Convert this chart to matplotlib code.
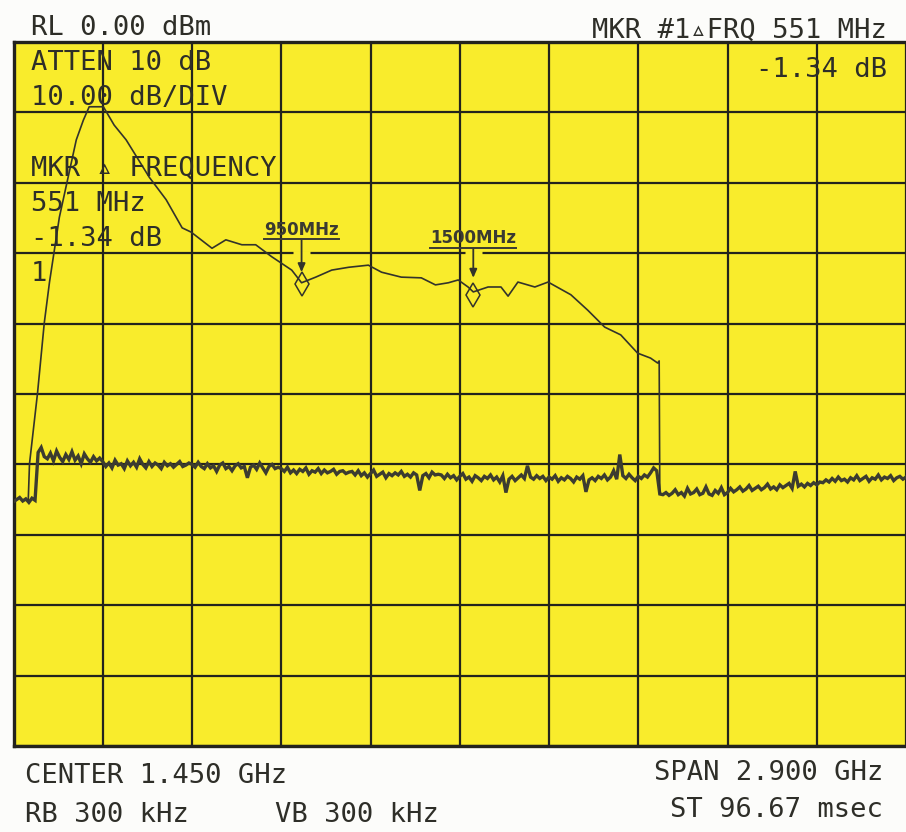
import numpy as np
import matplotlib
matplotlib.use("Agg")
import matplotlib.pyplot as plt

# ---------------- data ----------------
span_mhz = 2900
ref_level_dbm = 0.0
db_per_div = 10.0

# swept filter response (thin trace)
upper_freq = [48, 52, 78, 100, 117, 149, 204, 227, 246, 292,
              327, 366, 441, 496, 548, 577, 645, 690, 742, 787,
              839, 904, 936, 982, 1034, 1089, 1153, 1196, 1260, 1325,
              1371, 1413, 1445, 1477, 1494, 1542, 1584, 1607, 1639, 1694,
              1737, 1811, 1866, 1921, 1973, 2028, 2070, 2093, 2098, 2100]
upper_dbm = [-65.0, -59.9, -49.9, -39.9, -34.1, -24.9, -13.9, -11.1, -9.2, -9.2,
             -11.8, -13.9, -19.2, -22.4, -26.4, -27.0, -29.3, -28.1, -28.8, -28.8,
             -30.5, -32.4, -34.2, -33.4, -32.4, -32.0, -31.7, -32.7, -33.4, -33.5,
             -34.5, -34.2, -33.8, -34.8, -35.5, -34.8, -34.8, -36.1, -34.1, -34.8,
             -34.1, -35.9, -38.1, -40.5, -41.6, -44.2, -44.9, -45.6, -45.3, -64.1]

# noise-floor trace, one reading every 10 MHz from 0 to 2900 MHz
noise_step_mhz = 10
noise_dbm = [
    # 0-70
    -65.3, -65.0, -64.7, -65.2, -64.9, -65.4, -64.8, -65.1,
    # 80-280
    -58.3, -57.6, -58.9, -59.2, -58.4, -59.5, -58.1, -59.0, -59.6, -58.6,
    -59.3, -58.2, -59.4, -58.8, -59.9, -58.5, -59.2, -59.7, -58.9, -59.5, -59.1,
    # 290-570
    -59.6, -60.3, -59.8, -60.5, -59.4, -60.1, -59.9, -60.6, -59.5, -60.2,
    -59.7, -60.4, -59.2, -60.0, -60.5, -59.6, -60.3, -59.8, -60.1, -60.6,
    -59.7, -60.2, -59.9, -60.4, -60.0, -59.6, -60.3, -60.1, -59.8,
    # 580-860
    -60.0, -60.4, -59.7, -60.3, -60.6, -59.9, -60.5, -60.2, -61.0, -60.1,
    -59.8, -60.6, -60.3, -60.9, -60.2, -59.9, -60.5, -60.3, -61.9, -60.4,
    -60.1, -60.7, -59.8, -60.5, -61.2, -60.3, -60.0, -60.6, -60.4,
    # 870-1090
    -60.6, -61.0, -60.4, -61.2, -60.8, -61.3, -60.7, -61.0, -60.5, -61.4,
    -60.9, -61.1, -60.6, -61.3, -60.8, -61.2, -61.0, -60.7, -61.4, -61.0,
    -60.9, -61.3, -61.1,
    # 1100-1380
    -61.0, -61.5, -60.9, -61.6, -61.2, -61.8, -61.3, -60.8, -61.7, -61.4,
    -61.1, -61.9, -61.3, -61.6, -61.2, -61.5, -61.0, -61.7, -61.4, -61.8,
    -61.2, -61.5, -63.7, -61.6, -61.3, -61.9, -61.1, -61.5, -61.4,
    # 1390-1700
    -61.5, -62.0, -61.4, -61.9, -61.6, -62.2, -61.7, -61.3, -62.1, -61.8,
    -62.4, -61.6, -61.9, -62.3, -61.7, -62.0, -61.5, -62.2, -61.8, -62.5,
    -61.6, -64.0, -62.1, -61.7, -62.3, -61.9, -61.5, -62.0, -60.2, -61.8,
    -62.1, -61.6,
    # 1710-2090
    -62.0, -61.7, -62.3, -61.8, -62.1, -61.6, -62.4, -61.9, -62.2, -61.7,
    -62.0, -62.5, -61.8, -62.1, -61.6, -63.9, -62.2, -61.9, -62.3, -61.7,
    -62.0, -61.5, -62.2, -61.8, -60.9, -62.1, -58.6, -61.6, -62.0, -61.4,
    -61.9, -62.3, -61.7, -62.0, -61.5, -61.8, -61.2, -60.5, -60.9,
    # 2100-2320
    -64.2, -64.3, -64.0, -64.4, -64.1, -63.6, -64.3, -64.0, -64.5, -63.4,
    -64.2, -64.0, -63.5, -64.3, -64.1, -63.2, -64.2, -64.4, -63.7, -64.1,
    -63.3, -64.3, -64.0,
    # 2330-2620
    -63.4, -63.9, -63.6, -63.2, -63.8, -63.5, -63.0, -63.7, -63.4, -63.1,
    -63.6, -63.3, -62.8, -63.5, -63.2, -63.6, -62.9, -63.3, -63.0, -62.7,
    -63.4, -61.0, -63.1, -62.8, -63.2, -62.7, -63.0, -62.6, -62.9, -62.5,
    # 2630-2900
    -62.6, -62.2, -62.5, -62.0, -62.4, -61.8, -62.3, -62.1, -62.5, -61.9,
    -62.2, -61.6, -62.3, -62.0, -61.7, -62.4, -61.9, -62.1, -61.5, -62.2,
    -61.8, -62.0, -61.6, -62.3, -61.9, -61.7, -62.1, -61.8,
]

# frequency markers
marker_labels = ["950MHz", "1500MHz"]
marker_freq = [936, 1494]
marker_dbm = [-34.4, -35.9]
arrow_tail_dbm = [-28.1, -29.3]
arrow_tip_dbm = [-32.7, -33.5]
label_dbm = [-27.4, -28.6]

left_info = ["RL 0.00 dBm", "ATTEN 10 dB", "10.00 dB/DIV",
             "MKR \u25b5 FREQUENCY", "551 MHz", "-1.34 dB", "1"]
right_info = ["MKR #1\u25b5FRQ 551 MHz", "-1.34 dB"]
bottom_left = ["CENTER 1.450 GHz", "RB 300 kHz"]
bottom_mid = ["VB 300 kHz"]
bottom_right = ["SPAN 2.900 GHz", "ST 96.67 msec"]

# ---------------- style ----------------
W, H, DPI = 906, 832, 100
YELLOW = "#f9ec2c"
INK = "#2e2e28"
MONO = ["DejaVu Sans Mono", "DejaVu Sans"]
FS = 19.5

fig = plt.figure(figsize=(W / DPI, H / DPI), dpi=DPI, facecolor="#fcfcfa")


def fx(px):
    return px / W


def fy(py):
    return 1 - py / H


div_px = 89.5
ax_left, ax_top, ax_bottom = 13.5, 42, 746
ax = fig.add_axes([fx(ax_left), fy(ax_bottom), (W - ax_left) / W, (ax_bottom - ax_top) / H])
ax.set_facecolor(YELLOW)
ax.set_xlim(0, span_mhz * (W - ax_left) / (10 * div_px))
ax.set_ylim(ref_level_dbm - 10 * db_per_div, ref_level_dbm)
ax.set_xticks(np.linspace(0, span_mhz, 11))
ax.set_yticks(np.linspace(ref_level_dbm - 10 * db_per_div, ref_level_dbm, 11))
ax.tick_params(length=0, labelbottom=False, labelleft=False)
ax.grid(True, color="#23231d", lw=1.6)
ax.set_axisbelow(True)
for s in ["left", "top", "bottom"]:
    ax.spines[s].set_linewidth(2.4)
    ax.spines[s].set_color("#23231d")
ax.spines["right"].set_visible(False)

# gaps in the -30 dB grid line around the marker arrows
for fc in marker_freq:
    ax.plot([fc - 27, fc + 27], [-30, -30], color=YELLOW, lw=3.5, zorder=1.5,
            solid_capstyle="butt")

noise_freq = np.arange(len(noise_dbm)) * noise_step_mhz
ax.plot(noise_freq, noise_dbm, color="#3c3c30", lw=2.4, zorder=3, solid_joinstyle="miter")
ax.plot(upper_freq, upper_dbm, color="#33332b", lw=1.2, zorder=3)

# markers, arrows, labels
ax.plot(marker_freq, marker_dbm, linestyle="none", marker="d", markersize=12.5,
        markerfacecolor="none", markeredgecolor="#33332b", markeredgewidth=1.1, zorder=4)
labels = []
for lab, fc, yt, yp, yl in zip(marker_labels, marker_freq, arrow_tail_dbm, arrow_tip_dbm, label_dbm):
    ax.annotate("", xy=(fc, yp), xytext=(fc, yt),
                arrowprops=dict(arrowstyle="-|>,head_length=0.5,head_width=0.22",
                                color="#33332b", lw=1.3, shrinkA=0, shrinkB=0), zorder=4)
    t = ax.text(fc, yl, lab, ha="center", va="baseline", fontsize=12, fontweight="bold",
                family="DejaVu Sans", color="#3a3a32", zorder=5)
    labels.append(t)

fig.canvas.draw()
inv = fig.transFigure.inverted()
for t in labels:
    bb = t.get_window_extent()
    x0, y0 = inv.transform((bb.x0, bb.y0 - 0.5))
    x1, _ = inv.transform((bb.x1, bb.y0 - 0.5))
    fig.add_artist(plt.Line2D([x0, x1], [y0, y0], transform=fig.transFigure,
                              color="#3a3a32", lw=1.4, zorder=6))

# ---------------- annotations ----------------
left_base = [35, 70, 105, 176, 211, 246, 281]
for s, b in zip(left_info, left_base):
    fig.text(fx(31), fy(b), s, ha="left", va="baseline", fontsize=FS, family=MONO, color=INK)

for s, b in zip(right_info, [38, 77]):
    fig.text(fx(887), fy(b), s, ha="right", va="baseline", fontsize=FS, family=MONO, color=INK)

for s, b in zip(bottom_left, [783, 822]):
    fig.text(fx(25), fy(b), s, ha="left", va="baseline", fontsize=FS, family=MONO, color=INK)
fig.text(fx(275), fy(822), bottom_mid[0], ha="left", va="baseline", fontsize=FS, family=MONO, color=INK)
for s, b in zip(bottom_right, [780, 817]):
    fig.text(fx(883), fy(b), s, ha="right", va="baseline", fontsize=FS, family=MONO, color=INK)

fig.savefig("out.png", dpi=DPI, facecolor=fig.get_facecolor())
